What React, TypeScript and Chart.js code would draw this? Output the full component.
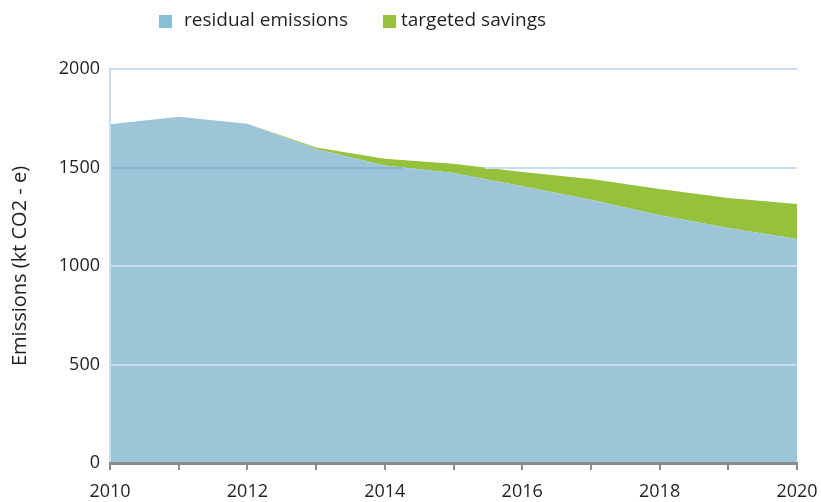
import React, { useEffect, useRef } from "react";
import { Chart, registerables } from "chart.js";

Chart.register(...registerables);

const years = [2010, 2011, 2012, 2013, 2014, 2015, 2016, 2017, 2018, 2019, 2020];
const residualEmissions = [1720, 1758, 1722, 1594, 1510, 1472, 1405, 1336, 1258, 1193, 1137];
const targetedSavings = [0, 0, 0, 8, 34, 47, 72, 105, 133, 152, 178];
const yTicks = [0, 500, 1000, 1500, 2000];
const seriesLabels = ["residual emissions", "targeted savings"];
const legendColors = ["#88bfd4", "#96c13d"];

const FONT = "'Open Sans', 'Noto Sans', sans-serif";
const GRID_LIGHT = "#c9def1";
const GRID_DARK = "#84b7d3";
const CLEAR = "rgba(0,0,0,0)";

function gridColor(c: any) {
  if (!c.tick) return CLEAR;
  const v = c.tick.value;
  if (v === 0) return CLEAR;
  const chart = c.chart;
  const area = chart && chart.chartArea;
  const xs = chart && chart.scales && chart.scales.x;
  if (!area || !xs) return GRID_LIGHT;
  const overBlue = v === 1500 ? GRID_DARK : GRID_LIGHT;
  const w = area.right - area.left;
  const grad = chart.ctx.createLinearGradient(area.left, 0, area.right, 0);
  const colorAt = (r: number, t: number) => (r >= v ? overBlue : t > v ? CLEAR : GRID_LIGHT);
  for (let i = 0; i < years.length - 1; i++) {
    const r0 = residualEmissions[i], r1 = residualEmissions[i + 1];
    const t0 = r0 + targetedSavings[i], t1 = r1 + targetedSavings[i + 1];
    const cuts = [0, 1];
    const addCut = (a: number, b: number) => {
      if ((a - v) * (b - v) < 0) cuts.push((v - a) / (b - a));
    };
    addCut(r0, r1);
    addCut(t0, t1);
    cuts.sort((a, b) => a - b);
    const p0 = (xs.getPixelForValue(years[i]) - area.left) / w;
    const p1 = (xs.getPixelForValue(years[i + 1]) - area.left) / w;
    for (let k = 0; k < cuts.length - 1; k++) {
      const m = (cuts[k] + cuts[k + 1]) / 2;
      const col = colorAt(r0 + (r1 - r0) * m, t0 + (t1 - t0) * m);
      const a = Math.min(1, Math.max(0, p0 + (p1 - p0) * cuts[k]));
      const b = Math.min(1, Math.max(0, p0 + (p1 - p0) * cuts[k + 1]));
      grad.addColorStop(a, col);
      grad.addColorStop(b, col);
    }
  }
  return grad;
}

export default function App() {
  const ref = useRef<HTMLCanvasElement | null>(null);

  useEffect(() => {
    document.body.style.margin = "0";
    const canvas = ref.current;
    if (!canvas) return;

    const legendPlugin = {
      id: "customLegend",
      afterDraw(chart: any) {
        const ctx = chart.ctx;
        const items = [
          { sq: 159, tx: 184 },
          { sq: 383, tx: 401 },
        ];
        ctx.save();
        ctx.font = `19px ${FONT}`;
        ctx.textBaseline = "middle";
        chart.data.datasets.forEach((ds: any, i: number) => {
          const it = items[i];
          ctx.fillStyle = legendColors[i];
          ctx.fillRect(it.sq, 15, 13, 13);
          ctx.fillStyle = "#231f20";
          ctx.fillText(ds.label, it.tx, 21);
        });
        ctx.restore();
      },
    };

    const chart = new Chart(canvas, {
      type: "line",
      data: {
        labels: years,
        datasets: [
          {
            label: seriesLabels[0],
            data: years.map((y, i) => ({ x: y, y: residualEmissions[i] })),
            backgroundColor: "#9dc5d8",
            borderWidth: 0,
            pointRadius: 0,
            fill: "origin",
            tension: 0,
          },
          {
            label: seriesLabels[1],
            data: years.map((y, i) => ({ x: y, y: targetedSavings[i] })),
            backgroundColor: "#96c13d",
            borderWidth: 0,
            pointRadius: 0,
            fill: "-1",
            tension: 0,
          },
        ],
      },
      options: {
        animation: false,
        responsive: false,
        maintainAspectRatio: false,
        layout: { padding: { left: 0, right: 24, top: 69, bottom: 0 } },
        plugins: {
          legend: { display: false },
          tooltip: { enabled: false },
        },
        scales: {
          x: {
            type: "linear",
            min: years[0],
            max: years[years.length - 1],
            afterFit: (s: any) => {
              s.height = 39;
              s.paddingLeft = 0;
              s.paddingRight = 0;
            },
            ticks: {
              stepSize: 1,
              autoSkip: false,
              maxRotation: 0,
              color: "#231f20",
              font: { family: FONT, size: 18 },
              padding: 11,
              callback: (v: any) => (Number(v) % 2 === 0 ? String(v) : ""),
            },
            grid: {
              drawOnChartArea: false,
              drawTicks: true,
              tickLength: 7,
              color: "#8a8a8a",
              lineWidth: 2,
            },
            border: { display: true, color: "#8a8a8a", width: 3, z: 2 },
          },
          y: {
            stacked: true,
            min: 0,
            max: 2000,
            afterFit: (s: any) => {
              s.width = 110;
              s.paddingTop = 0;
              s.paddingBottom = 0;
            },
            afterBuildTicks: (s: any) => {
              s.ticks = yTicks.map((v) => ({ value: v }));
            },
            ticks: {
              color: "#231f20",
              font: { family: FONT, size: 18 },
              padding: 10,
              callback: (v: any) => String(v),
            },
            grid: {
              drawTicks: false,
              z: 1,
              lineWidth: 2,
              color: gridColor,
            },
            border: { display: true, color: "#c8ddf0", width: 2, z: 1 },
            title: {
              display: true,
              text: "Emissions (kt CO2 - e)",
              color: "#231f20",
              font: { family: FONT, size: 20 },
              padding: { top: 8, bottom: 0 },
            },
          },
        },
      },
      plugins: [legendPlugin],
    } as any);

    return () => chart.destroy();
  }, []);

  return (
    <div style={{ width: 821, height: 502 }}>
      <canvas ref={ref} width={821} height={502} style={{ display: "block" }} />
    </div>
  );
}
